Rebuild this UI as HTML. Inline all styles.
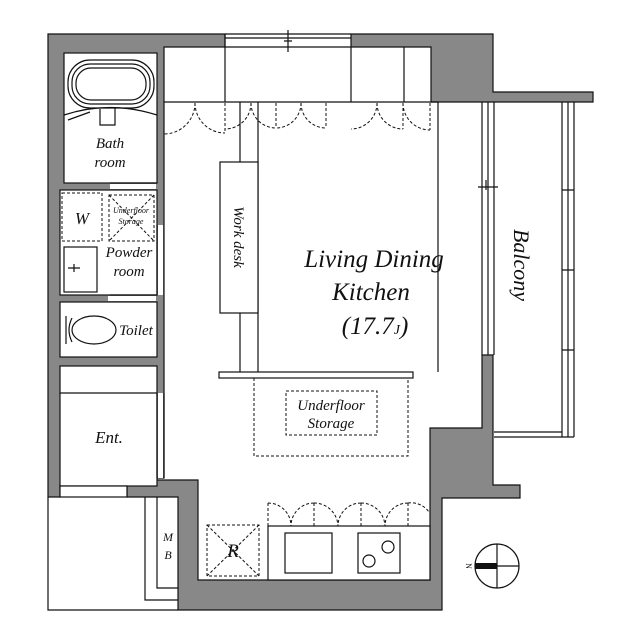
<!DOCTYPE html>
<html><head><style>body{margin:0;background:#fff}svg{display:block}text{font-family:"Liberation Serif",serif;font-style:italic;fill:#111}</style></head><body>
<svg width="640" height="640" viewBox="0 0 640 640" xmlns="http://www.w3.org/2000/svg">
<g fill="#888" stroke="#111" stroke-width="1.2">
<path d="M48,34H225V47H164V478H157V486H60V497H48Z"/>
<path d="M351,34H493V92H593V102H431V47H351Z"/>
<path d="M482,355H493V485H520V498H442V610H178V497H127V480H198V580H430V428H482Z"/>
</g>
<g fill="#fff" stroke="#111" stroke-width="1.2">
<rect x="64" y="53" width="93" height="130"/>
<rect x="60" y="190" width="97" height="105"/>
<rect x="60" y="302" width="97" height="55"/>
<rect x="60" y="366" width="97" height="120"/>
<rect x="60" y="486" width="67" height="11"/>
</g>
<g fill="#fff" stroke="none">
<rect x="110" y="184" width="46" height="5"/>
<rect x="158" y="225" width="5" height="70"/>
<rect x="108" y="296" width="48" height="5"/>
<rect x="158" y="393" width="5" height="85"/>
</g>
<g fill="none" stroke="#111" stroke-width="1.2">
<path d="M110,183H157M157,225V295M110,295H157M157,393V478M164,393V478"/>
<path d="M225,34H351M225,38H351M225,47H351M288,30V52M284,41H292"/>
<path d="M225,34V102M351,47V102M404,47V102M164,102H438"/>
<path d="M438,102V372M240,102V372M258,102V372"/>
<rect x="220" y="162" width="38" height="151" fill="#fff"/>
<rect x="219" y="372" width="194" height="6"/>
<rect x="68" y="60" width="86" height="48" rx="22"/>
<rect x="72" y="64" width="78" height="40" rx="18"/>
<rect x="76" y="68" width="70" height="32" rx="15"/>
<path d="M64,115Q110,100 157,115M100,109V125H115V108M68,120L90,112"/>
<path d="M60,393H157"/>
<rect x="64" y="247" width="33" height="45"/>
<path d="M68,268H80M74,264V272"/>
<ellipse cx="94" cy="330" rx="22" ry="14"/>
<path d="M72,318Q66,330 72,342M66,316V344"/>
<path d="M48,497V610H178M145,497V600H178M157,497V588H178"/>
<path d="M482,102V355M488,102V355M494,102V355M562,102V437M568,102V437M574,102V437M494,437H574M494,432H562M562,190H574M562,270H574M562,350H574M478,187H498M486,180V190"/>
<rect x="268" y="526" width="162" height="54" fill="#fff"/>
<rect x="285" y="533" width="47" height="40"/>
<rect x="358" y="533" width="42" height="40"/>
<circle cx="388" cy="547" r="6"/><circle cx="369" cy="561" r="6"/>
<circle cx="497" cy="566" r="22"/>
<path d="M497,544V588M475,566H519"/>
</g>
<rect x="475" y="563" width="22" height="6" fill="#111"/>
<g fill="none" stroke="#111" stroke-width="1" stroke-dasharray="3,2">
<path d="M225,103V133M276,103V128M326,103V128M403,103V129M430,103V130"/>
<path d="M195,103A31,31 0 0 1 164,134M195,103A30,30 0 0 0 225,133"/>
<path d="M251,103A26,26 0 0 1 225,129M251,103A25,25 0 0 0 276,128"/>
<path d="M301,103A25,25 0 0 1 276,128M301,103A25,25 0 0 0 326,128"/>
<path d="M377,103A26,26 0 0 1 351,129M377,103A26,26 0 0 0 403,129"/>
<path d="M403,103A27,27 0 0 0 430,130"/>
<rect x="62" y="193" width="40" height="48"/><rect x="109" y="195" width="45" height="46"/>
<path d="M109,195L154,241M154,195L109,241"/>
<path d="M254,378V456H408V378"/>
<rect x="286" y="391" width="91" height="44"/>
<rect x="207" y="525" width="52" height="51"/>
<path d="M207,525L259,576M259,525L207,576"/>
<path d="M268,503V526M314,503V526M361,503V526M408,503V526"/>
<path d="M268,503A23,23 0 0 1 291,526M314,503A23,23 0 0 0 291,526M314,503A24,24 0 0 1 338,526M361,503A23,23 0 0 0 338,526M361,503A24,24 0 0 1 385,526M408,503A23,23 0 0 0 385,526M408,503A22,22 0 0 1 429,512"/>
</g>
<text x="110" y="148" font-size="15" text-anchor="middle">Bath</text>
<text x="110" y="167" font-size="15" text-anchor="middle">room</text>
<text x="82" y="224" font-size="17" text-anchor="middle">W</text>
<text x="131" y="213" font-size="8" text-anchor="middle">Underfloor</text>
<text x="131" y="224" font-size="8" text-anchor="middle">Storage</text>
<text x="129" y="257" font-size="15" text-anchor="middle">Powder</text>
<text x="129" y="276" font-size="15" text-anchor="middle">room</text>
<text x="136" y="335" font-size="15" text-anchor="middle">Toilet</text>
<text x="109" y="443" font-size="17" text-anchor="middle">Ent.</text>
<text x="168" y="541" font-size="12" text-anchor="middle">M</text>
<text x="168" y="559" font-size="12" text-anchor="middle">B</text>
<text x="233" y="557" font-size="19" text-anchor="middle">R</text>
<text x="374" y="267" font-size="25" text-anchor="middle">Living Dining</text>
<text x="371" y="300" font-size="25" text-anchor="middle">Kitchen</text>
<text x="375" y="334" font-size="25" text-anchor="middle">(17.7<tspan font-size="14">J</tspan>)</text>
<text x="331" y="410" font-size="15" text-anchor="middle">Underfloor</text>
<text x="331" y="428" font-size="15" text-anchor="middle">Storage</text>
<text transform="translate(234,237) rotate(90)" font-size="15" text-anchor="middle">Work desk</text>
<text transform="translate(514,265) rotate(90)" font-size="22" text-anchor="middle">Balcony</text>
<text transform="translate(466,566) rotate(90)" font-size="8" text-anchor="middle" style="font-style:normal">N</text>
</svg>
</body></html>
